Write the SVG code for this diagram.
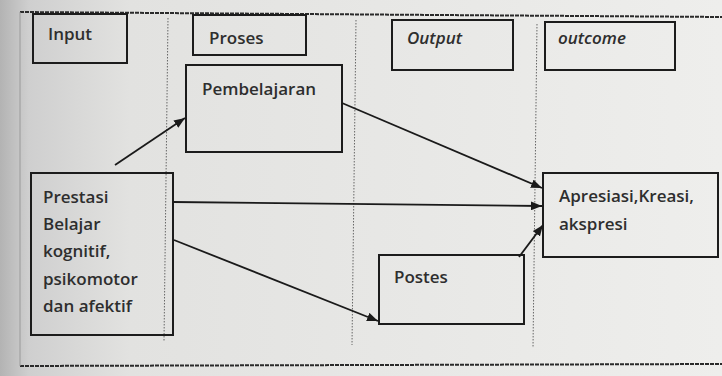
<svg xmlns="http://www.w3.org/2000/svg" width="722" height="376" viewBox="0 0 722 376">
<defs>
<linearGradient id="paper" x1="0" y1="0" x2="722" y2="0" gradientUnits="userSpaceOnUse">
<stop offset="0" stop-color="#b3b3b3"/>
<stop offset="0.04" stop-color="#cfcfcf"/>
<stop offset="0.18" stop-color="#e2e2e0"/>
<stop offset="1" stop-color="#eeeeec"/>
</linearGradient>
<marker id="ah" viewBox="0 0 10 8" refX="10" refY="4" markerWidth="11" markerHeight="9" markerUnits="userSpaceOnUse" orient="auto">
<path d="M0,0 L10,4 L0,8 Z" fill="#1a1a1a"/>
</marker>
<style>
.box{fill:none;stroke:#1c1c1c;stroke-width:2}
.t{font-family:"Open Sans","Liberation Sans",sans-serif;font-size:17px;font-weight:600;fill:#2e2e2e}
.i{font-style:italic}
.div{stroke:#666;stroke-width:1;stroke-dasharray:1.5 1.5}
.frame{stroke:#2a2a2a;stroke-width:2;stroke-dasharray:4 1}
.c{stroke:#1a1a1a;stroke-width:1.8;fill:none;marker-end:url(#ah)}
</style>
</defs>
<rect x="0" y="0" width="722" height="376" fill="url(#paper)"/>
<g id="frame">
<line class="frame" x1="20" y1="12" x2="722" y2="17"/>
<line class="frame" x1="20" y1="366" x2="722" y2="364"/>
<line x1="20" y1="12" x2="20" y2="366" stroke="#9a9a9a" stroke-width="1"/>
<line class="div" x1="168" y1="18" x2="164" y2="341"/>
<line class="div" x1="356" y1="20" x2="352" y2="345"/>
<line class="div" x1="537" y1="24" x2="533" y2="348"/>
</g>
<g id="input">
<rect class="box" x="33" y="14" width="94" height="49"/>
<text class="t" x="48" y="40">Input</text>
</g>
<g id="proses">
<rect class="box" x="193" y="15" width="113" height="40"/>
<text class="t" x="209" y="44">Proses</text>
</g>
<g id="output">
<rect class="box" x="392" y="20" width="121" height="50"/>
<text class="t i" x="407" y="44">Output</text>
</g>
<g id="outcome">
<rect class="box" x="545" y="22" width="130" height="48"/>
<text class="t i" x="558" y="44">outcome</text>
</g>
<g id="pembelajaran">
<rect class="box" x="186" y="65" width="156" height="87"/>
<text class="t" x="202" y="95">Pembelajaran</text>
</g>
<g id="prestasi">
<rect class="box" x="31" y="173" width="142" height="162"/>
<text class="t" x="43" y="203">Prestasi</text>
<text class="t" x="43" y="230">Belajar</text>
<text class="t" x="43" y="257">kognitif,</text>
<text class="t" x="43" y="285">psikomotor</text>
<text class="t" x="43" y="312">dan afektif</text>
</g>
<g id="apresiasi">
<rect class="box" x="543" y="173" width="175" height="84"/>
<text class="t" x="559" y="202">Apresiasi,Kreasi,</text>
<text class="t" x="559" y="230">akspresi</text>
</g>
<g id="postes">
<rect class="box" x="379" y="255" width="145" height="69"/>
<text class="t" x="394" y="283">Postes</text>
</g>
<g id="connectors">
<line class="c" x1="115" y1="165" x2="185" y2="118"/>
<line class="c" x1="342" y1="103" x2="542" y2="188"/>
<line class="c" x1="173" y1="202" x2="542" y2="206"/>
<line class="c" x1="174" y1="240" x2="378" y2="321"/>
<line class="c" x1="519" y1="257" x2="543" y2="225"/>
</g>
</svg>
